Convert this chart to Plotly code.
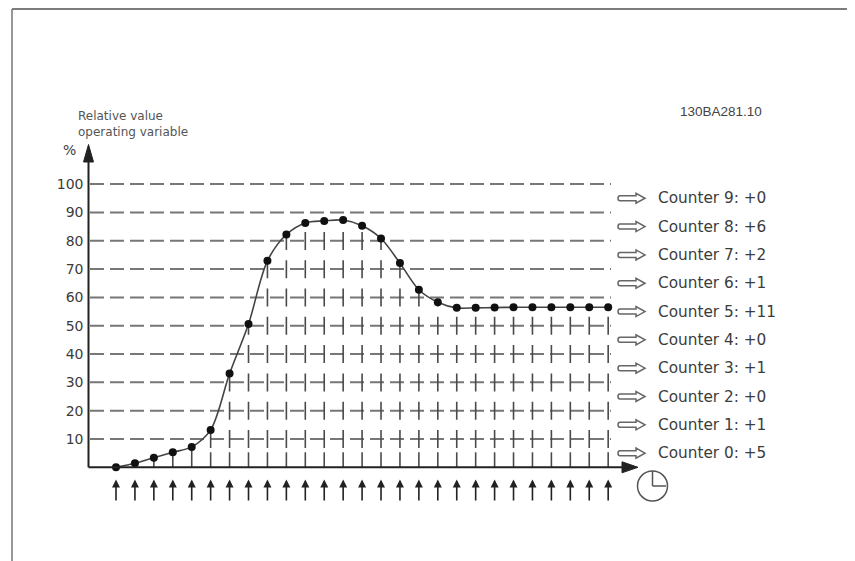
import plotly.graph_objects as go

# ---------------- data ----------------
STEPS = list(range(1, 28))  # sampling instants (27)
VALUES = [0, 1.4, 3.4, 5.3, 7.2, 13.2, 33.1, 50.6, 72.9, 82.2, 86.3, 87.0, 87.3,
          85.3, 80.8, 72.1, 62.7, 58.3, 56.3, 56.3, 56.4, 56.5, 56.5, 56.5, 56.5,
          56.5, 56.5]
TICKS = [10, 20, 30, 40, 50, 60, 70, 80, 90, 100]
COUNTER_NAMES = ["Counter 0", "Counter 1", "Counter 2", "Counter 3", "Counter 4",
                 "Counter 5", "Counter 6", "Counter 7", "Counter 8", "Counter 9"]
COUNTS = [5, 1, 0, 1, 0, 11, 1, 2, 6, 0]
BAND_MIDS = [5, 15, 25, 35, 45, 55, 65, 75, 85, 95]
Y_TITLE = "Relative value<br>operating variable"
CODE = "130BA281.10"

# ---------------- geometry (screen pixel -> data / paper helpers) ----------------
OFF = 8                      # page body margin of the browser
W, H = 855 - OFF, 561 - OFF  # figure size so the page fits the window
PX_FIRST, DX = 116.0, 18.93  # screen pixel of first step, px per step
PY_ZERO, DY = 467.3, 2.832   # screen pixel of 0 %, px per %


def xd(px):
    return 1 + (px - PX_FIRST) / DX


def yd(py):
    return (PY_ZERO - py) / DY


def xp(px):
    return (px - OFF) / W


def yp(py):
    return 1 - (py - OFF) / H


AX_PX = 88.5
AX_X = xd(AX_PX)
DARK = "#222222"
GRID = "#777777"
TXT = "#3c3c3c"
FOOT = 15 / DY       # solid foot of each drop line (in %)
DASH_START = 19.3 / DY  # first dash begins here so dashes cross the grid lines

fig = go.Figure()

# vertical drop lines: a solid foot, then dashes crossing the grid lines
fx, fy, dxs, dys = [], [], [], []
for s, v in zip(STEPS, VALUES):
    if v <= 0:
        continue
    top_foot = v if v < 8 else min(v, FOOT)
    fx += [s, s, None]
    fy += [0, top_foot, None]
    if v > DASH_START:
        dxs += [s, s, None]
        dys += [DASH_START, v, None]
fig.add_trace(go.Scatter(x=fx, y=fy, mode="lines",
                         line=dict(color="#4a4a4a", width=1.6),
                         hoverinfo="skip", showlegend=False))
fig.add_trace(go.Scatter(x=dxs, y=dys, mode="lines",
                         line=dict(color="#4a4a4a", width=1.6, dash="18px,10.3px"),
                         hoverinfo="skip", showlegend=False))

# horizontal dashed grid lines
for t in TICKS:
    fig.add_shape(type="line", xref="x", yref="y", x0=xd(90), x1=xd(611), y0=t, y1=t,
                  line=dict(color=GRID, width=2, dash="14px,6px"), layer="below")

# main curve
fig.add_trace(go.Scatter(x=STEPS, y=VALUES, mode="lines+markers",
                         line=dict(color="#444444", width=1.6, shape="spline", smoothing=0.9),
                         marker=dict(color="#111111", size=8),
                         showlegend=False))

# axes with arrow heads
fig.add_shape(type="line", xref="paper", yref="paper", x0=xp(AX_PX), x1=xp(AX_PX),
              y0=yp(PY_ZERO), y1=yp(152), line=dict(color=DARK, width=2))
fig.add_shape(type="line", xref="paper", yref="paper", x0=xp(AX_PX), x1=xp(626),
              y0=yp(PY_ZERO), y1=yp(PY_ZERO), line=dict(color=DARK, width=2))
fig.add_shape(type="path", xref="paper", yref="paper",
              path=(f"M{xp(AX_PX)},{yp(144.5)} L{xp(AX_PX + 5)},{yp(162)} "
                    f"L{xp(AX_PX - 5)},{yp(162)} Z"),
              fillcolor=DARK, line=dict(color=DARK, width=1))
fig.add_shape(type="path", xref="paper", yref="paper",
              path=(f"M{xp(638)},{yp(PY_ZERO)} L{xp(622)},{yp(PY_ZERO - 5.5)} "
                    f"L{xp(622)},{yp(PY_ZERO + 5.5)} Z"),
              fillcolor=DARK, line=dict(color=DARK, width=1))

annotations = []
# sampling arrows under the axis
for s in STEPS:
    annotations.append(dict(x=s, y=yd(479.5), ax=s, ay=yd(502), xref="x", yref="y",
                            axref="x", ayref="y", text="", showarrow=True, arrowhead=2,
                            arrowsize=1.0, arrowwidth=1.6, arrowcolor=DARK))

# counter labels + hollow arrows
for name, cnt, mid in zip(COUNTER_NAMES, COUNTS, BAND_MIDS):
    annotations.append(dict(x=xd(656), y=mid, xref="x", yref="y", xanchor="left",
                            yanchor="middle", showarrow=False,
                            text=f"{name}: +{cnt}",
                            font=dict(family="DejaVu Sans", size=15.3, color=TXT)))
    fig.add_shape(type="path", xref="x", yref="y", xsizemode="pixel", ysizemode="pixel",
                  xanchor=xd(618), yanchor=mid,
                  path="M2,-2.5 L18,-2.5 L18,-5 L27,0 L18,5 L18,2.5 L2,2.5 Q0,2.5 0,0 Q0,-2.5 2,-2.5 Z",
                  line=dict(color="#666666", width=1.5), fillcolor="white")

# texts
annotations.append(dict(x=xp(70), y=yp(150), xref="paper", yref="paper", text="%",
                        xanchor="center", yanchor="middle", showarrow=False,
                        font=dict(family="DejaVu Sans", size=14, color=TXT)))
annotations.append(dict(x=xp(76), y=yp(124), xref="paper", yref="paper", text=Y_TITLE,
                        xanchor="left", yanchor="middle", align="left", showarrow=False,
                        font=dict(family="DejaVu Sans", size=12, color="#555555")))
annotations.append(dict(x=xp(721), y=yp(112), xref="paper", yref="paper", text=CODE,
                        xanchor="center", yanchor="middle", showarrow=False,
                        font=dict(family="Liberation Sans", size=13.5, color="#444444")))

# frame of the page
fig.add_shape(type="line", xref="paper", yref="paper", x0=xp(12), x1=1, y0=yp(9), y1=yp(9),
              line=dict(color="#7d7d7d", width=2))
fig.add_shape(type="line", xref="paper", yref="paper", x0=xp(12), x1=xp(12), y0=yp(9), y1=0,
              line=dict(color="#7d7d7d", width=1.6))

# clock symbol
fig.add_shape(type="circle", xref="paper", yref="paper", x0=xp(637.5), x1=xp(667.5),
              y0=yp(501), y1=yp(471), line=dict(color="#555555", width=1.5))
fig.add_shape(type="line", xref="paper", yref="paper", x0=xp(652.5), x1=xp(652.5),
              y0=yp(471), y1=yp(486), line=dict(color="#555555", width=1.5))
fig.add_shape(type="line", xref="paper", yref="paper", x0=xp(652.5), x1=xp(666),
              y0=yp(486), y1=yp(486), line=dict(color="#555555", width=1.5))

fig.update_layout(
    width=W, height=H, margin=dict(l=0, r=0, t=0, b=0),
    paper_bgcolor="white", plot_bgcolor="white",
    showlegend=False, annotations=annotations,
    xaxis=dict(range=[xd(OFF), xd(855)], visible=False, fixedrange=True),
    yaxis=dict(range=[yd(561), yd(OFF)], anchor="free", position=xp(AX_PX), side="left",
               tickvals=TICKS, ticktext=[str(t) for t in TICKS], showgrid=False,
               zeroline=False, showline=False, ticks="", ticklabelstandoff=5,
               tickfont=dict(family="DejaVu Sans", size=14, color=TXT), fixedrange=True),
)

fig.write_html("out.html")
